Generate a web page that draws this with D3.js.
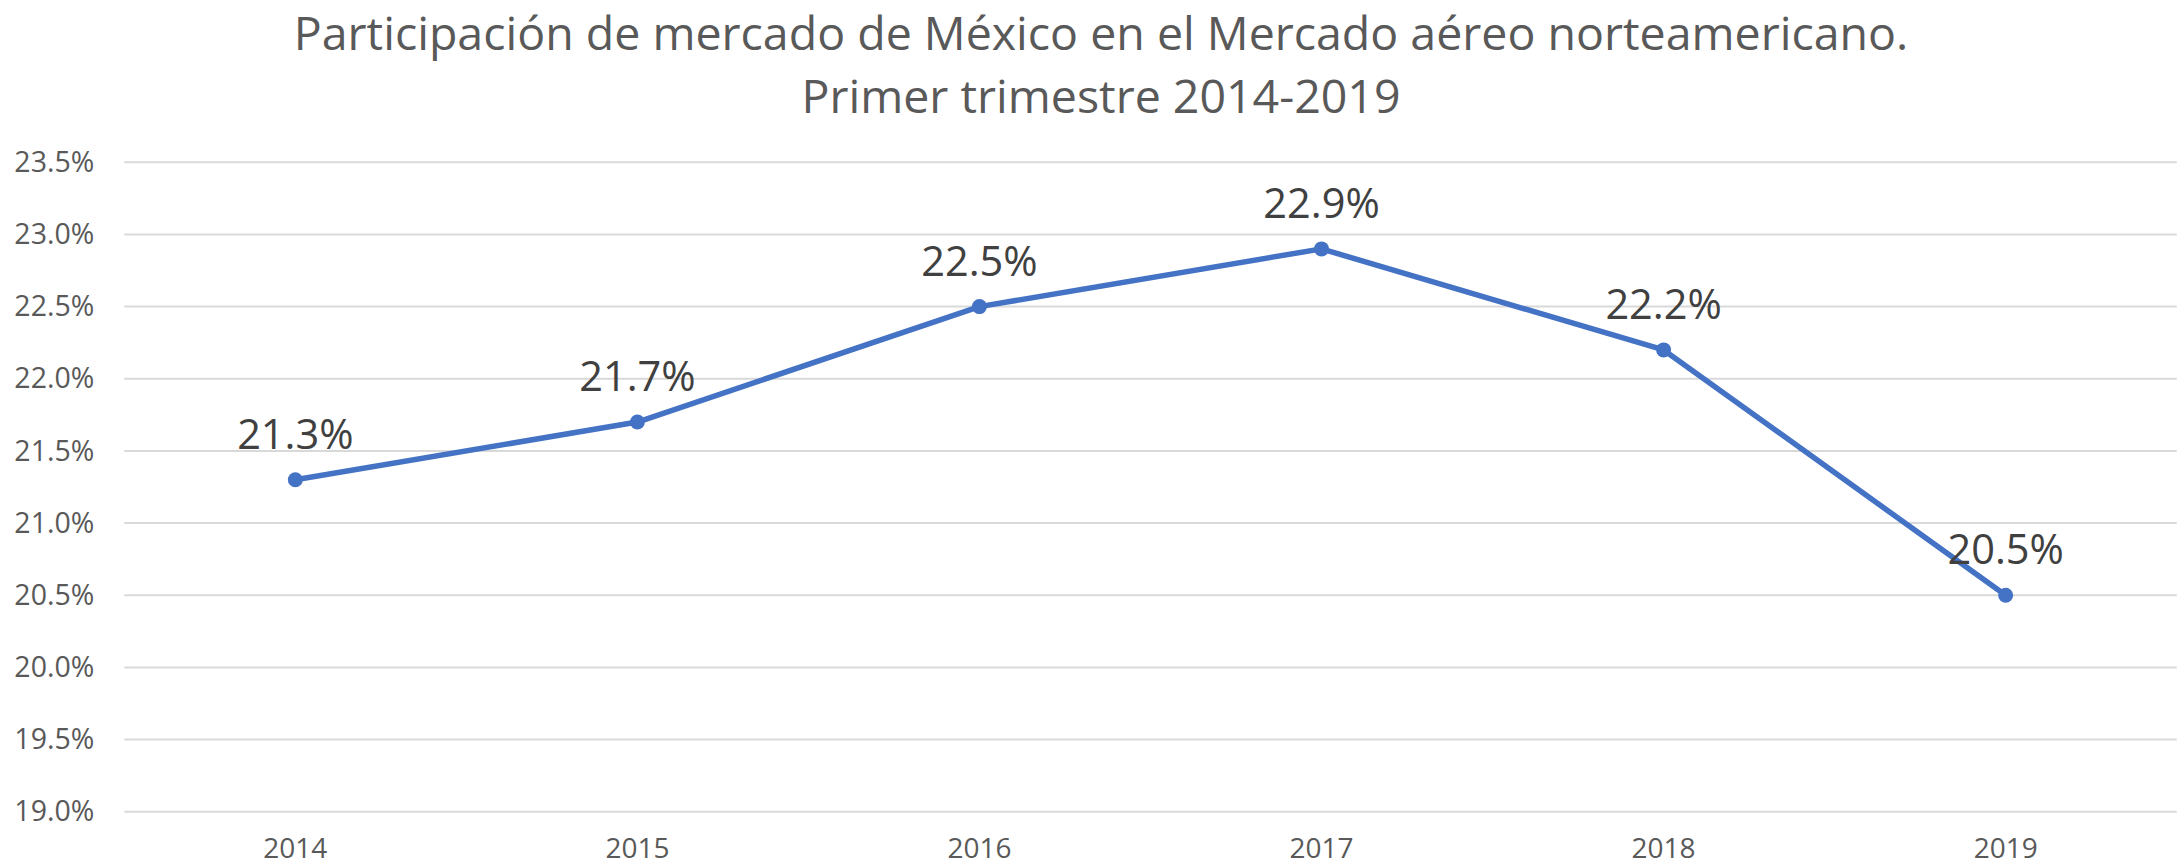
<!DOCTYPE html>
<html>
<head>
<meta charset="utf-8">
<script src="https://cdn.jsdelivr.net/npm/d3@7"></script>
<style>
  html, body { margin: 0; padding: 0; background: #fff; }
  svg { display: block; font-family: "Open Sans", sans-serif; }
</style>
</head>
<body>
<svg id="chart" width="2183" height="866"></svg>
<script>
const years = ["2014", "2015", "2016", "2017", "2018", "2019"];
const shareValues = [21.3, 21.7, 22.5, 22.9, 22.2, 20.5];
const yTicks = [19.0, 19.5, 20.0, 20.5, 21.0, 21.5, 22.0, 22.5, 23.0, 23.5];
const titleLines = [
  "Participación de mercado de México en el Mercado aéreo norteamericano.",
  "Primer trimestre 2014-2019"
];

const W = 2183, H = 866;
const margin = { left: 124.3, right: W - 2176.7, top: 162.3, bottom: H - 811.7 };
const svg = d3.select("#chart");

const x = d3.scaleBand().domain(years).range([margin.left, W - margin.right]).padding(0);
const y = d3.scaleLinear().domain([19.0, 23.5]).range([H - margin.bottom, margin.top]);

// Title
svg.append("g").selectAll("text").data(titleLines).join("text")
  .attr("x", 1101)
  .attr("y", (d, i) => i === 0 ? 50 : 113)
  .attr("text-anchor", "middle")
  .attr("fill", "#595959")
  .attr("font-size", 46.5)
  .text(d => d);

// Gridlines
svg.append("g").selectAll("line").data(yTicks).join("line")
  .attr("x1", margin.left).attr("x2", W - margin.right)
  .attr("y1", d => y(d)).attr("y2", d => y(d))
  .attr("stroke", "#d9d9d9").attr("stroke-width", 2);

// Y axis
const yAxis = svg.append("g")
  .attr("transform", `translate(${margin.left},0)`)
  .call(d3.axisLeft(y).tickValues(yTicks).tickFormat(d => d.toFixed(1) + "%").tickSize(0).tickPadding(30));
yAxis.select(".domain").remove();
yAxis.selectAll("text")
  .attr("font-family", "Open Sans, sans-serif")
  .attr("font-size", 28.5)
  .attr("fill", "#595959");

// X axis
const xAxis = svg.append("g")
  .attr("transform", `translate(0,${H - margin.bottom})`)
  .call(d3.axisBottom(x).tickSize(0).tickPadding(26));
xAxis.select(".domain").remove();
xAxis.selectAll("text")
  .attr("font-family", "Open Sans, sans-serif")
  .attr("font-size", 28)
  .attr("fill", "#595959");

const cx = d => x(d) + x.bandwidth() / 2;
const pts = years.map((yr, i) => ({ yr, v: shareValues[i] }));

// Line
svg.append("path")
  .datum(pts)
  .attr("fill", "none")
  .attr("stroke", "#4472C4")
  .attr("stroke-width", 5.5)
  .attr("stroke-linejoin", "round")
  .attr("d", d3.line().x(d => cx(d.yr)).y(d => y(d.v)));

// Markers
svg.append("g").selectAll("circle").data(pts).join("circle")
  .attr("cx", d => cx(d.yr)).attr("cy", d => y(d.v))
  .attr("r", 7.5).attr("fill", "#4472C4");

// Data labels
svg.append("g").selectAll("text").data(pts).join("text")
  .attr("x", d => cx(d.yr))
  .attr("y", d => y(d.v) - 31)
  .attr("text-anchor", "middle")
  .attr("font-size", 41.5)
  .attr("fill", "#404040")
  .text(d => d.v.toFixed(1) + "%");
</script>
</body>
</html>
